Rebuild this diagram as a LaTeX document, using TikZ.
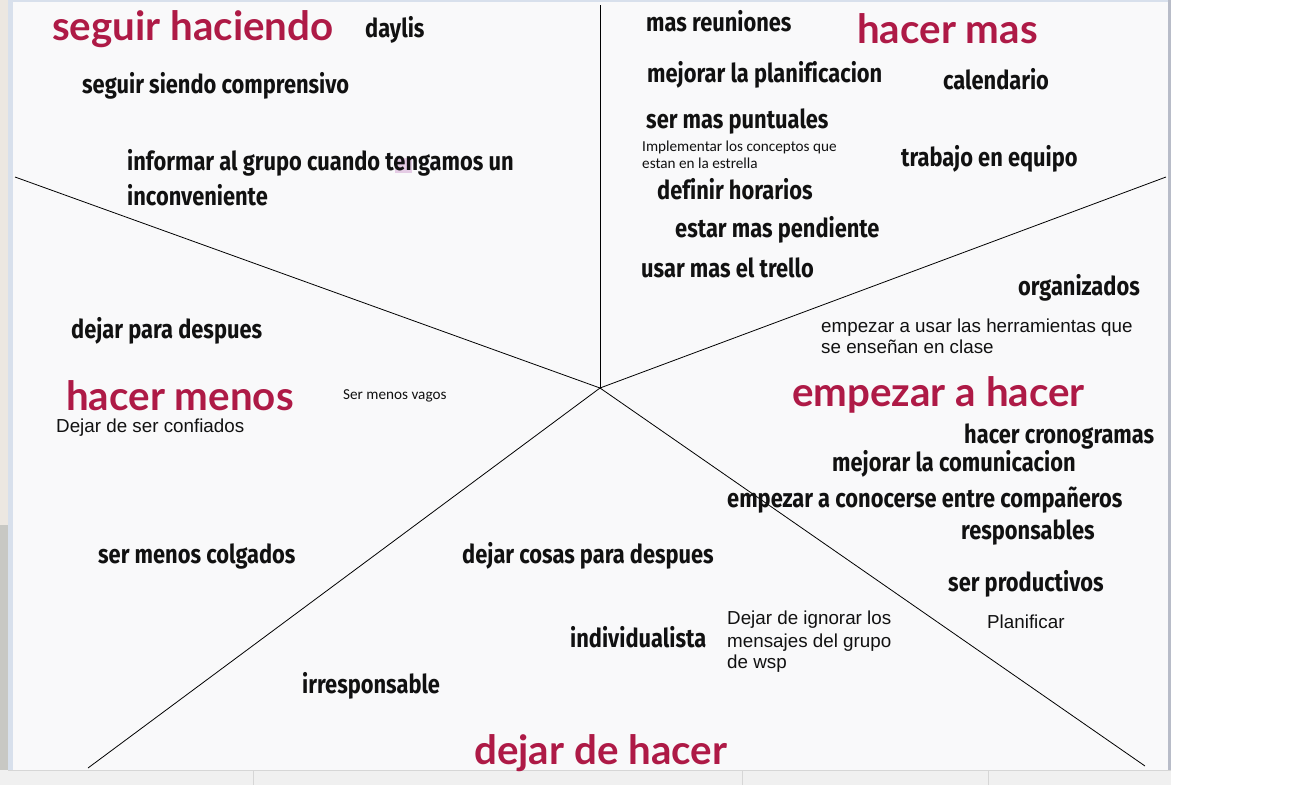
\documentclass[tikz,border=0pt]{standalone}
\usepackage{fontspec}
\setmainfont{Liberation Sans}
\newfontfamily\condfont[FakeStretch=0.84,Ligatures=NoCommon]{Fira Sans}
\newfontfamily\headfont{Lato}
\newfontfamily\calfont{Carlito}
\newfontfamily\arifont{Liberation Sans}
\definecolor{headred}{HTML}{AE1A46}
\definecolor{panel}{HTML}{F9F9FA}
\definecolor{beige}{HTML}{ECE7E1}
\definecolor{scrollg}{HTML}{C8C8C4}
\definecolor{edgeblue}{HTML}{D8E0EC}
\definecolor{rborder}{HTML}{B8BCC8}
\definecolor{barg}{HTML}{F0F0F0}
\definecolor{barline}{HTML}{D6D6D6}
\definecolor{txt}{HTML}{111111}
\tikzset{
  cond/.style={anchor=base west, inner sep=0pt, text=txt, font=\condfont\bfseries\fontsize{26}{30}\selectfont},
  head/.style={anchor=base west, inner sep=0pt, text=headred, font=\headfont\bfseries\fontsize{40.3}{46}\selectfont},
  cal/.style={anchor=base west, inner sep=0pt, text=txt, font=\calfont\fontsize{15.2}{18}\selectfont},
  ari/.style={anchor=base west, inner sep=0pt, text=txt, font=\arifont\fontsize{18.8}{22}\selectfont},
  divider/.style={draw=black, line width=0.8pt}
}
\begin{document}
\begin{tikzpicture}[x=1pt,y=-1pt]
\useasboundingbox (0,0) rectangle (1294,785);
% background
\fill[white] (0,0) rectangle (1294,785);
\fill[beige] (0,0) rectangle (8,525);
\fill[scrollg] (0,525) rectangle (8,770);
\fill[edgeblue] (8,0) rectangle (13,770);
\fill[panel] (13,0) rectangle (1168,770);
\fill[edgeblue] (13,0) rectangle (1168,1.5);
\fill[rborder] (1168,0) rectangle (1171,770);
\fill[barg] (0,770) rectangle (1171,785);
\draw[barline, line width=0.8pt] (8,770.5) -- (1171,770.5);
\draw[barline, line width=0.8pt] (253,771) -- (253,785);
\draw[barline, line width=0.8pt] (742,771) -- (742,785);
\draw[barline, line width=0.8pt] (988,771) -- (988,785);
\fill[violet!20] (395,158) rectangle (412,173);

% star lines
\coordinate (c) at (600,388);
\coordinate (pt) at (600,5);
\coordinate (pul) at (15,177);
\coordinate (pur) at (1166,177);
\coordinate (pll) at (88,768);
\coordinate (plr) at (1145,766);
\draw[divider] (c) -- (pt);
\draw[divider] (c) -- (pul);
\draw[divider] (c) -- (pur);
\draw[divider] (c) -- (pll);
\draw[divider] (c) -- (plr);

% seguir haciendo
\node[head] (h1) at (52,40) {seguir haciendo};
\node[cond] (t1) at (365,37) {daylis};
\node[cond] (t2) at (82,93) {seguir siendo comprensivo};
\node[cond] (t3a) at (127,170) {informar al grupo cuando tengamos un};
\node[cond] (t3b) at (127,205) {inconveniente};

% hacer mas
\node[cond] (m1) at (646,31) {mas reuniones};
\node[head] (h2) at (857,43) {hacer mas};
\node[cond] (m2) at (647,82) {mejorar la planificacion};
\node[cond] (m3) at (943,89) {calendario};
\node[cond] (m4) at (646,128) {ser mas puntuales};
\node[cal] (m5a) at (642,151) {Implementar los conceptos que};
\node[cal] (m5b) at (642,168) {estan en la estrella};
\node[cond] (m6) at (901,166) {trabajo en equipo};
\node[cond] (m7) at (657,199) {definir horarios};
\node[cond] (m8) at (675,237) {estar mas pendiente};
\node[cond] (m9) at (641,277) {usar mas el trello};

% empezar a hacer
\node[cond] (e1) at (1018,295) {organizados};
\node[ari] (e2a) at (821,332) {empezar a usar las herramientas que};
\node[ari] (e2b) at (821,353) {se enseñan en clase};
\node[head] (h3) at (792,406) {empezar a hacer};
\node[cond] (e3) at (964,443) {hacer cronogramas};
\node[cond] (e4) at (832,471) {mejorar la comunicacion};
\node[cond] (e5) at (727,507) {empezar a conocerse entre compañeros};
\node[cond] (e6) at (961,539) {responsables};
\node[cond] (e7) at (948,591) {ser productivos};
\node[ari] (e8) at (987,628) {Planificar};

% dejar de hacer
\node[cond] (d1) at (462,563) {dejar cosas para despues};
\node[ari] (d2a) at (727,624) {Dejar de ignorar los};
\node[ari] (d2b) at (727,647) {mensajes del grupo};
\node[ari] (d2c) at (727,668) {de wsp};
\node[cond] (d3) at (570,647) {individualista};
\node[cond] (d4) at (302,693) {irresponsable};
\node[head] (h4) at (474,764) {dejar de hacer};

% hacer menos
\node[cond] (n1) at (71,338) {dejar para despues};
\node[head] (h5) at (66,410) {hacer menos};
\node[ari] (n2) at (56,432) {Dejar de ser confiados};
\node[cal] (n3) at (343,399) {Ser menos vagos};
\node[cond] (n4) at (98,563) {ser menos colgados};
\end{tikzpicture}
\end{document}
